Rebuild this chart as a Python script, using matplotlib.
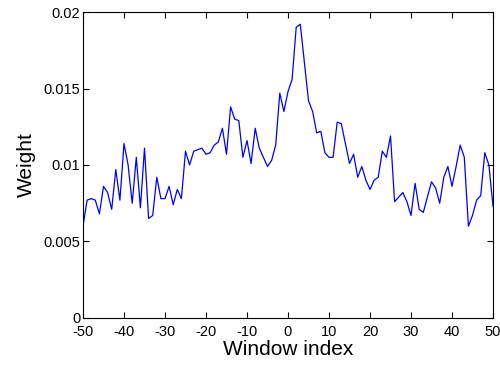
import numpy as np
import matplotlib
matplotlib.use('Agg')
import matplotlib.pyplot as plt

# window index -50..50
window_idx = np.arange(-50, 51)

# weights
weights = [
    0.0060, 0.0077, 0.0078, 0.0077, 0.0068, 0.0086, 0.0082, 0.0071, 0.0097, 0.0077,
    0.0114, 0.0100, 0.0075, 0.0105, 0.0072, 0.0111, 0.0065, 0.0067, 0.0092, 0.0078,
    0.0078, 0.0086, 0.0074, 0.0084, 0.0078, 0.0109, 0.0100, 0.0109, 0.0110, 0.0111,
    0.0107, 0.0108, 0.0113, 0.0115, 0.0124, 0.0107, 0.0138, 0.0130, 0.0129, 0.0105,
    0.0116, 0.0101, 0.0124, 0.0111, 0.0105, 0.0099, 0.0103, 0.0113, 0.0147, 0.0135,
    0.0148, 0.0156, 0.0190, 0.0192, 0.0167, 0.0142, 0.0135, 0.0121, 0.0122, 0.0108,
    0.0105, 0.0105, 0.0128, 0.0127, 0.0114, 0.0101, 0.0107, 0.0092, 0.0099, 0.0090,
    0.0084, 0.0090, 0.0092, 0.0109, 0.0105, 0.0119, 0.0076, 0.0079, 0.0082, 0.0076,
    0.0067, 0.0088, 0.0071, 0.0069, 0.0079, 0.0089, 0.0085, 0.0075, 0.0092, 0.0099,
    0.0086, 0.0099, 0.0113, 0.0105, 0.0060, 0.0067, 0.0077, 0.0080, 0.0108, 0.0100,
    0.0073,
]

x_ticks = list(range(-50, 51, 10))
y_ticks = [0, 0.005, 0.01, 0.015, 0.02]
y_tick_labels = ['0', '0.005', '0.01', '0.015', '0.02']

plt.rcParams['font.family'] = ['Liberation Sans', 'DejaVu Sans']

fig = plt.figure(figsize=(5, 3.65), dpi=100)
ax = fig.add_axes([0.166, 0.129, 0.820, 0.838])

ax.plot(window_idx, weights, color='#0000ff', linewidth=0.9)

ax.set_xlim(-50, 50)
ax.set_ylim(0, 0.02)
ax.set_xticks(x_ticks)
ax.set_xticklabels([str(t) for t in x_ticks])
ax.set_yticks(y_ticks)
ax.set_yticklabels(y_tick_labels)
ax.tick_params(direction='in', top=True, right=True, labelsize=10.5, length=4)
ax.tick_params(axis='x', pad=5)
ax.tick_params(axis='y', pad=2)
for s in ax.spines.values():
    s.set_linewidth(0.8)

ax.set_xlabel('Window index', fontsize=15, labelpad=1)
ax.set_ylabel('Weight', fontsize=15, labelpad=5)

fig.savefig('out.png', dpi=100)
